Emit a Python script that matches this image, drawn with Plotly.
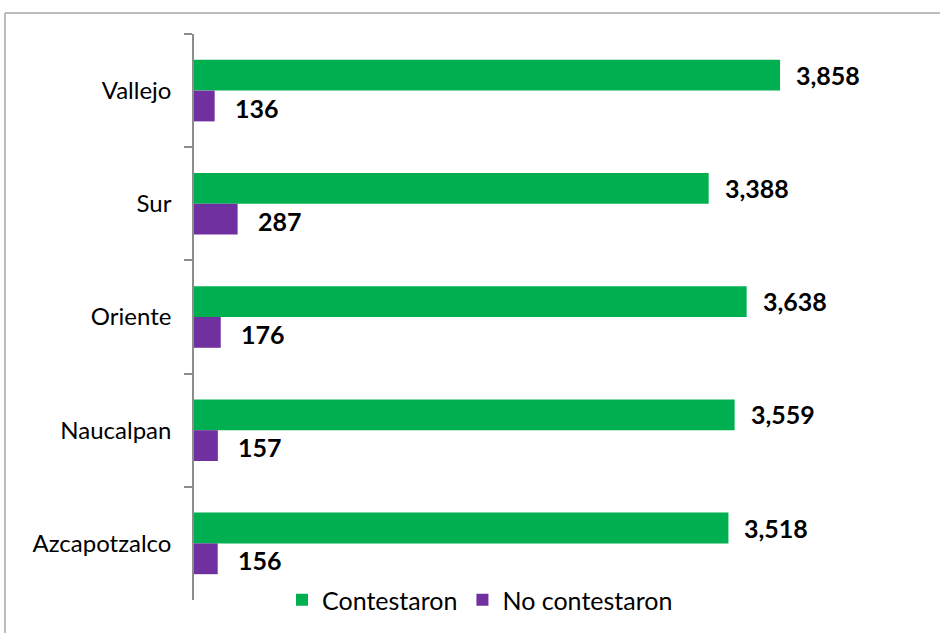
import plotly.graph_objects as go

# Survey response counts by campus
planteles = ["Vallejo", "Sur", "Oriente", "Naucalpan", "Azcapotzalco"]
contestaron = [3858, 3388, 3638, 3559, 3518]
no_contestaron = [136, 287, 176, 157, 156]

GREEN = "#00B050"
PURPLE = "#7030A0"
FONT = "Lato, 'Open Sans', sans-serif"

W, H = 940, 633
L, R, T, B = 194, 10, 34, 33
X_MAX = 4845

fig = go.Figure()
fig.add_trace(go.Bar(y=planteles, x=contestaron, orientation="h",
                     name="Contestaron", marker=dict(color=GREEN, line=dict(width=0))))
fig.add_trace(go.Bar(y=planteles, x=no_contestaron, orientation="h",
                     name="No contestaron", marker=dict(color=PURPLE, line=dict(width=0))))

# Value labels next to each bar end
annotations = []
for i, v in enumerate(contestaron):
    annotations.append(dict(x=v, y=i - 0.14, xref="x", yref="y", text=f"<b>{v:,}</b>",
                            xanchor="left", yanchor="middle", xshift=14, showarrow=False,
                            font=dict(size=25, color="black", family=FONT)))
for i, v in enumerate(no_contestaron):
    annotations.append(dict(x=v, y=i + 0.15, xref="x", yref="y", text=f"<b>{v:,}</b>",
                            xanchor="left", yanchor="middle", xshift=18, showarrow=False,
                            font=dict(size=25, color="black", family=FONT)))

pw = W - L - R
ph = H - T - B
def px_x(p):
    return (p - L) / pw
def px_y(p):
    return (H - B - p) / ph

fig.update_layout(
    width=W, height=H,
    margin=dict(l=L, r=R, t=T, b=B),
    paper_bgcolor="white", plot_bgcolor="white",
    barmode="group", bargap=0.456, bargroupgap=0,
    font=dict(family=FONT, size=24, color="black"),
    xaxis=dict(range=[0, X_MAX], visible=False, showgrid=False, zeroline=False, fixedrange=True),
    yaxis=dict(categoryorder="array", categoryarray=planteles, autorange="reversed",
               showline=True, linecolor="#8C8C8C", linewidth=1.5,
               ticks="outside", tickson="boundaries", ticklen=8, tickcolor="#8C8C8C",
               tickwidth=1.5, ticklabelstandoff=16, showgrid=False,
               tickfont=dict(size=24, family=FONT, color="black")),
    showlegend=True,
    legend=dict(orientation="h", x=px_x(282), y=px_y(600), xanchor="left", yanchor="middle",
                font=dict(size=25, family=FONT, color="black"), bgcolor="rgba(0,0,0,0)",
                tracegroupgap=0),
    annotations=annotations,
    shapes=[
        dict(type="line", xref="paper", yref="paper", x0=px_x(5), x1=px_x(945),
             y0=px_y(13), y1=px_y(13), line=dict(color="#A6A6A6", width=1.5)),
        dict(type="line", xref="paper", yref="paper", x0=px_x(5), x1=px_x(5),
             y0=px_y(13), y1=px_y(640), line=dict(color="#A6A6A6", width=1.5)),
    ],
)

fig.write_html("out.html")
